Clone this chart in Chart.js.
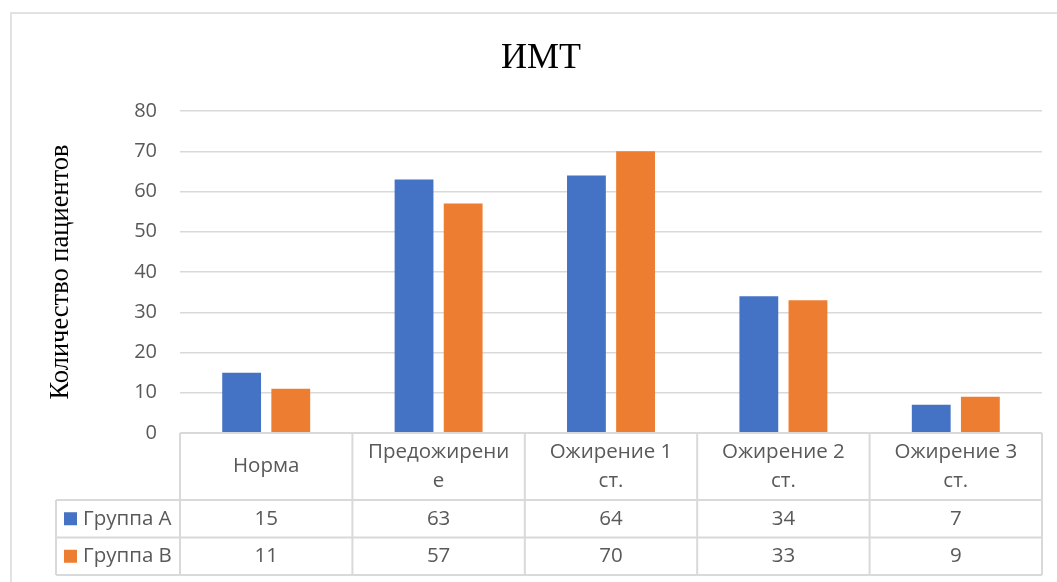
<!DOCTYPE html>
<html>
<head>
<meta charset="utf-8">
<script src="https://cdn.jsdelivr.net/npm/chart.js@4/dist/chart.umd.min.js"></script>
<style>
  html, body { margin: 0; padding: 0; background: #ffffff; }
  #wrap { width: 1057px; height: 582px; position: relative; }
</style>
</head>
<body>
<div id="wrap"><canvas id="chart" width="1057" height="582"></canvas></div>
<script>
// BMI categories (wrapped as they appear in the table header)
const categories = [
  ['Норма'],
  ['Предожирени', 'е'],
  ['Ожирение 1', 'ст.'],
  ['Ожирение 2', 'ст.'],
  ['Ожирение 3', 'ст.']
];
const seriesNames = ['Группа А', 'Группа В'];
const groupA = [15, 63, 64, 34, 7];
const groupB = [11, 57, 70, 33, 9];
const yTickMax = 80;
const yTickStep = 10;

const chartTitle = 'ИМТ';
const yAxisTitle = 'Количество пациентов';

const BLUE = '#4472C4';
const ORANGE = '#ED7D31';
const TEXT = '#595959';
const LINE = '#d9d9d9';
const SANS = '"Open Sans", "Noto Sans", sans-serif';
const SERIF = '"Liberation Serif", "DejaVu Serif", serif';

// Frame around the chart and the title
const framePlugin = {
  id: 'frame',
  beforeDraw(chart) {
    const ctx = chart.ctx;
    ctx.save();
    ctx.fillStyle = '#ffffff';
    ctx.fillRect(0, 0, chart.width, chart.height);
    ctx.strokeStyle = LINE;
    ctx.lineWidth = 1.5;
    ctx.strokeRect(11, 13, chart.width + 20, chart.height + 20);
    ctx.fillStyle = '#000000';
    ctx.font = '36px ' + SERIF;
    ctx.textAlign = 'center';
    ctx.textBaseline = 'alphabetic';
    ctx.fillText(chartTitle, 541, 68);
    ctx.restore();
  }
};

// Data table under the plot, aligned to the category scale
const tablePlugin = {
  id: 'dataTable',
  afterDraw(chart) {
    const ctx = chart.ctx;
    const area = chart.chartArea;
    const xs = chart.scales.x;
    const n = categories.length;
    const colW = (area.right - area.left) / n;
    const top = area.bottom;
    const headerBottom = top + 67;
    const rowH = 37.5;
    const tableBottom = headerBottom + rowH * 2;
    const legendLeft = 56;
    const rows = [groupA, groupB];
    const colors = [BLUE, ORANGE];

    const seg = (x1, y1, x2, y2) => {
      ctx.beginPath();
      ctx.moveTo(x1, y1);
      ctx.lineTo(x2, y2);
      ctx.stroke();
    };

    ctx.save();
    ctx.strokeStyle = LINE;
    ctx.lineWidth = 2;
    seg(area.left, top, area.right, top);
    seg(legendLeft, headerBottom, area.right, headerBottom);
    seg(legendLeft, headerBottom + rowH, area.right, headerBottom + rowH);
    seg(legendLeft, tableBottom, area.right, tableBottom);
    for (let i = 0; i <= n; i++) {
      const cx = i < n ? xs.getPixelForValue(i) - colW / 2 : xs.getPixelForValue(n - 1) + colW / 2;
      seg(cx, top, cx, tableBottom);
    }
    seg(legendLeft, headerBottom, legendLeft, tableBottom);

    ctx.fillStyle = TEXT;
    ctx.font = '20.5px ' + SANS;
    ctx.textAlign = 'center';
    ctx.textBaseline = 'middle';
    const headerMid = (top + headerBottom) / 2;
    const lineGap = 29;
    categories.forEach((lines, i) => {
      const cx = xs.getPixelForValue(i);
      const y0 = headerMid - (lines.length - 1) * lineGap / 2;
      lines.forEach((t, k) => ctx.fillText(t, cx, y0 + k * lineGap));
    });

    rows.forEach((vals, r) => {
      const cy = headerBottom + rowH * r + rowH / 2;
      vals.forEach((v, i) => {
        ctx.fillStyle = TEXT;
        ctx.textAlign = 'center';
        ctx.fillText(String(v), xs.getPixelForValue(i), cy);
      });
      ctx.fillStyle = colors[r];
      ctx.fillRect(64, cy - 6.5, 13, 13);
      ctx.fillStyle = TEXT;
      ctx.textAlign = 'left';
      ctx.fillText(seriesNames[r], 83, cy);
    });
    ctx.restore();
  }
};

new Chart(document.getElementById('chart'), {
  type: 'bar',
  data: {
    labels: categories.map(c => c.join('')),
    datasets: [
      { label: seriesNames[0], data: groupA, backgroundColor: BLUE,
        barPercentage: 0.79, categoryPercentage: 0.57 },
      { label: seriesNames[1], data: groupB, backgroundColor: ORANGE,
        barPercentage: 0.79, categoryPercentage: 0.57 }
    ]
  },
  options: {
    responsive: false,
    animation: false,
    layout: { padding: { left: 0, right: 15, top: 111, bottom: 149 } },
    plugins: {
      legend: { display: false },
      tooltip: { enabled: false },
      title: { display: false }
    },
    scales: {
      x: { display: false },
      y: {
        min: 0,
        max: yTickMax,
        afterFit(scale) { scale.width = 180; },
        ticks: {
          stepSize: yTickStep,
          color: TEXT,
          font: { family: SANS, size: 20 },
          padding: 23
        },
        grid: { color: LINE, lineWidth: 1.5, drawTicks: false },
        border: { display: false },
        title: {
          display: true,
          text: yAxisTitle,
          color: '#000000',
          font: { family: SERIF, size: 26.5 },
          padding: { top: 45, bottom: 0 }
        }
      }
    }
  },
  plugins: [framePlugin, tablePlugin]
});
</script>
</body>
</html>
